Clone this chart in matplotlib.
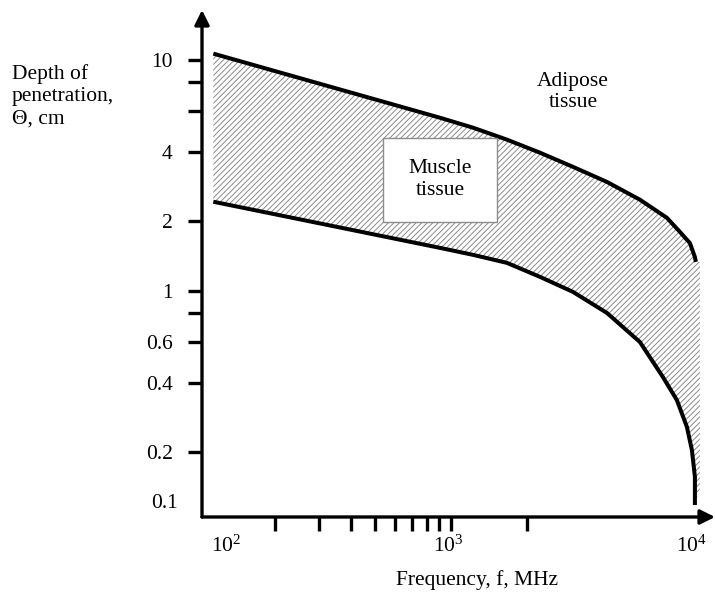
import matplotlib
matplotlib.use("Agg")
import matplotlib.pyplot as plt
from matplotlib.patches import Rectangle

plt.rcParams['font.family'] = ['Liberation Serif', 'DejaVu Serif']
plt.rcParams['mathtext.fontset'] = 'custom'
plt.rcParams['mathtext.rm'] = 'Liberation Serif'
plt.rcParams['hatch.color'] = '#8a8a8a'
plt.rcParams['hatch.linewidth'] = 0.7

# upper boundary of the band (frequency MHz, depth cm)
upper_f = [114, 904, 1223, 1668, 2255, 3049, 4159, 5623, 7197, 8103, 8880, 9296, 9380]
upper_d = [10.62, 5.61, 5.08, 4.51, 3.96, 3.44, 2.96, 2.48, 2.07, 1.80, 1.61, 1.40, 1.335]

# lower boundary of the band
lower_f = [114, 904, 1223, 1668, 2255, 3049, 4159, 5623, 6939, 7884, 8640, 9044, 9296, 9296]
lower_d = [2.43, 1.535, 1.432, 1.322, 1.150, 0.990, 0.803, 0.601, 0.424, 0.337, 0.258, 0.205, 0.157, 0.1185]

# right edge of the hatched area
edge_f = 9730

y_ticks = [10, 8, 6, 4, 2, 1, 0.8, 0.6, 0.4, 0.2]
y_labels = ['10', '', '', '4', '2', '1', '', '0.6', '0.4', '0.2']
x_ticks = [200, 300, 400, 500, 600, 700, 800, 900, 1000, 2000]
x_labels = [r'$\mathregular{10^2}$', r'$\mathregular{10^3}$', r'$\mathregular{10^4}$']

fs = 15.5

fig = plt.figure(figsize=(7.15, 5.92), dpi=100)
ax = fig.add_axes([202 / 715, 1 - 517 / 592, 513 / 715, 507 / 592])
ax.set_xscale('log')
ax.set_yscale('log')
ax.set_xlim(102.8, 11170)
ax.set_ylim(0.1052, 16.4)

# hatched band
poly_f = upper_f + [edge_f, edge_f] + lower_f[::-1]
poly_d = upper_d + [upper_d[-1], 0.14] + lower_d[::-1]
ax.fill(poly_f, poly_d, facecolor='none', edgecolor='#8a8a8a', hatch='//////', linewidth=0)

ax.plot(upper_f, upper_d, color='black', lw=2.9, solid_capstyle='butt', solid_joinstyle='round')
ax.plot(lower_f, lower_d, color='black', lw=2.9, solid_capstyle='butt', solid_joinstyle='round')

# muscle box
ax.add_patch(Rectangle((537, 1.99), 1523 - 537, 4.59 - 1.99, facecolor='white',
                       edgecolor='#8c8c8c', lw=1.0, zorder=3))
ax.text(904, 3.03, 'Muscle\ntissue', ha='center', va='center', fontsize=fs,
        linespacing=1.25, zorder=4)
ax.text(3048, 7.25, 'Adipose\ntissue', ha='center', va='center', fontsize=fs,
        linespacing=1.15)

# axes with arrows
for s in ax.spines.values():
    s.set_visible(False)
ax.annotate('', xy=(1, 0), xytext=(0, 0), xycoords='axes fraction',
            arrowprops=dict(arrowstyle='-|>', lw=2.4, color='black', mutation_scale=22,
                            shrinkA=0, shrinkB=0))
ax.annotate('', xy=(0, 1), xytext=(0, 0), xycoords='axes fraction',
            arrowprops=dict(arrowstyle='-|>', lw=2.4, color='black', mutation_scale=22,
                            shrinkA=0, shrinkB=0))

ax.set_yticks(y_ticks)
ax.set_yticklabels(y_labels)
ax.set_yticks([], minor=True)
ax.set_xticks(x_ticks)
ax.set_xticklabels([''] * len(x_ticks))
ax.set_xticks([], minor=True)
ax.tick_params(axis='y', length=10, width=2.4, labelsize=fs, pad=11)
ax.tick_params(axis='x', length=10, width=2.4)

ax.text(-0.047, 0.027, '0.1', transform=ax.transAxes, ha='right', va='center', fontsize=fs)
for xl, xp in zip(x_labels, [128, 973, 9040]):
    ax.text(xp, -0.057, xl, transform=ax.get_xaxis_transform(), ha='center', va='center',
            fontsize=fs)

fig.text(477 / 715, 1 - 580 / 592, 'Frequency, f, MHz', ha='center', va='center', fontsize=fs)
fig.text(12 / 715, 1 - 64 / 592, 'Depth of\npenetration,\nΘ, cm', ha='left', va='top',
         fontsize=fs, linespacing=1.22)

fig.savefig('out.png', dpi=100)
